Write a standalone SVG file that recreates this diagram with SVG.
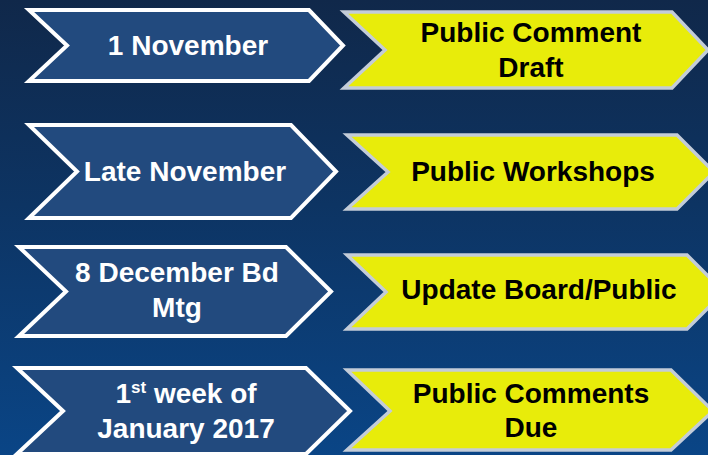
<svg xmlns="http://www.w3.org/2000/svg" width="708" height="455" viewBox="0 0 708 455">
<defs>
<linearGradient id="bg" x1="0" y1="0" x2="0" y2="1">
<stop offset="0" stop-color="#10284a"/>
<stop offset="0.45" stop-color="#0d3463"/>
<stop offset="1" stop-color="#0a4586"/>
</linearGradient>
</defs>
<style>
.blue{fill:#224a7e;stroke:#ffffff;stroke-width:4;stroke-linejoin:miter}
.yel{fill:#e8ec0a;stroke:#c3ccd8;stroke-width:3.5;stroke-linejoin:miter}
.wt{font-family:"Liberation Sans",Arial,sans-serif;font-weight:bold;font-size:28px;fill:#ffffff;text-anchor:middle}
.bt{font-family:"Liberation Sans",Arial,sans-serif;font-weight:bold;font-size:28px;fill:#000000;text-anchor:middle}
</style>
<rect x="0" y="0" width="708" height="455" fill="url(#bg)"/>
<g id="connectors"></g>
<g id="n1">
<polygon class="blue" points="29,10 309,10 343,45.5 309,81 29,81 67,45.5"/>
<text class="wt" x="188" y="55">1 November</text>
</g>
<g id="n2">
<polygon class="yel" points="344,12 672,12 708,50 672,88 344,88 385,50"/>
<text class="bt" x="531" y="42">Public Comment</text>
<text class="bt" x="531" y="77">Draft</text>
</g>
<g id="n3">
<polygon class="blue" points="29,125 291,125 336,171.5 291,218 29,218 77,171.5"/>
<text class="wt" x="185" y="181">Late November</text>
</g>
<g id="n4">
<polygon class="yel" points="347,135 677,135 714,172 677,209 347,209 388,172"/>
<text class="bt" x="533" y="181">Public Workshops</text>
</g>
<g id="n5">
<polygon class="blue" points="19,247 286,247 331,291.5 286,336 19,336 66,291.5"/>
<text class="wt" x="177" y="282">8 December Bd</text>
<text class="wt" x="177" y="317">Mtg</text>
</g>
<g id="n6">
<polygon class="yel" points="347,255 687,255 724,292 687,329 347,329 386,292"/>
<text class="bt" x="539" y="299">Update Board/Public</text>
</g>
<g id="n7">
<polygon class="blue" points="17,368 306,368 350,411 306,454 17,454 63,411"/>
<text class="wt" x="186" y="403">1<tspan font-size="17" dy="-10">st</tspan><tspan dy="10"> week of</tspan></text>
<text class="wt" x="186" y="438">January 2017</text>
</g>
<g id="n8">
<polygon class="yel" points="347,370 671,370 713,411 671,450 347,450 390,411"/>
<text class="bt" x="531" y="403">Public Comments</text>
<text class="bt" x="531" y="437">Due</text>
</g>
</svg>
